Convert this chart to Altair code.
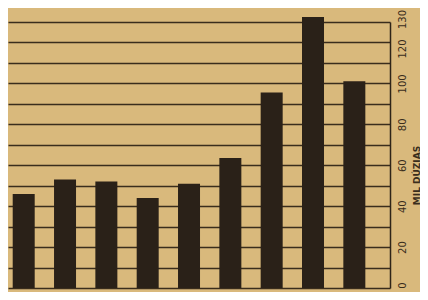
import altair as alt
import pandas as pd

# bar order (left to right) and values in thousands of dozens
positions = [1, 2, 3, 4, 5, 6, 7, 8, 9]
values = [46, 53, 52, 44, 51, 63.5, 95.5, 132.5, 101]

grid_values = [0, 10, 20, 30, 40, 50, 60, 70, 80, 90, 100, 110, 120, 130]

df = pd.DataFrame({"pos": positions, "val": values})

bars = alt.Chart(df).mark_bar(size=22, color="#2a2118").encode(
    x=alt.X("pos:Q", scale=alt.Scale(domain=[0.741, 9.742], nice=False, zero=False), axis=None),
    y=alt.Y(
        "val:Q",
        scale=alt.Scale(domain=[0, 130], nice=False),
        axis=alt.Axis(
            orient="right",
            values=grid_values,
            labelExpr="(datum.value % 20 == 0 || datum.value == 130) ? datum.label : ''",
            labelAngle=270,
            labelAlign="center",
            labelBaseline="top",
            labelPadding=7,
            labelOffset={"expr": "datum.value == 130 ? -3 : (datum.value == 120 ? 6 : (datum.value == 0 ? -3 : 0))"},
            labelFont="DejaVu Sans",
            labelFontSize=10,
            labelColor="#3a2d1c",
            tickSize=0,
            domainColor="#2e2418",
            domainWidth=1.5,
            grid=True,
            gridColor="#3a2d1c",
            gridWidth=1.5,
            title="MIL DÚZIAS",
            titleAngle=270,
            titleX=26,
            titleY=153,
            titleAlign="center",
            titleBaseline="middle",
            titleFont="DejaVu Sans",
            titleFontSize=9,
            titleFontWeight="bold",
            titleColor="#3a2d1c",
        ),
    ),
)

chart = bars.properties(
    width=382,
    height=266,
    autosize=alt.AutoSizeParams(type="none"),
    padding={"left": 0, "top": 14, "right": 30, "bottom": 4},
    background="#d9b97c",
).configure_view(stroke=None)

chart.save("out.html", embed_options={"renderer": "svg", "actions": False})
